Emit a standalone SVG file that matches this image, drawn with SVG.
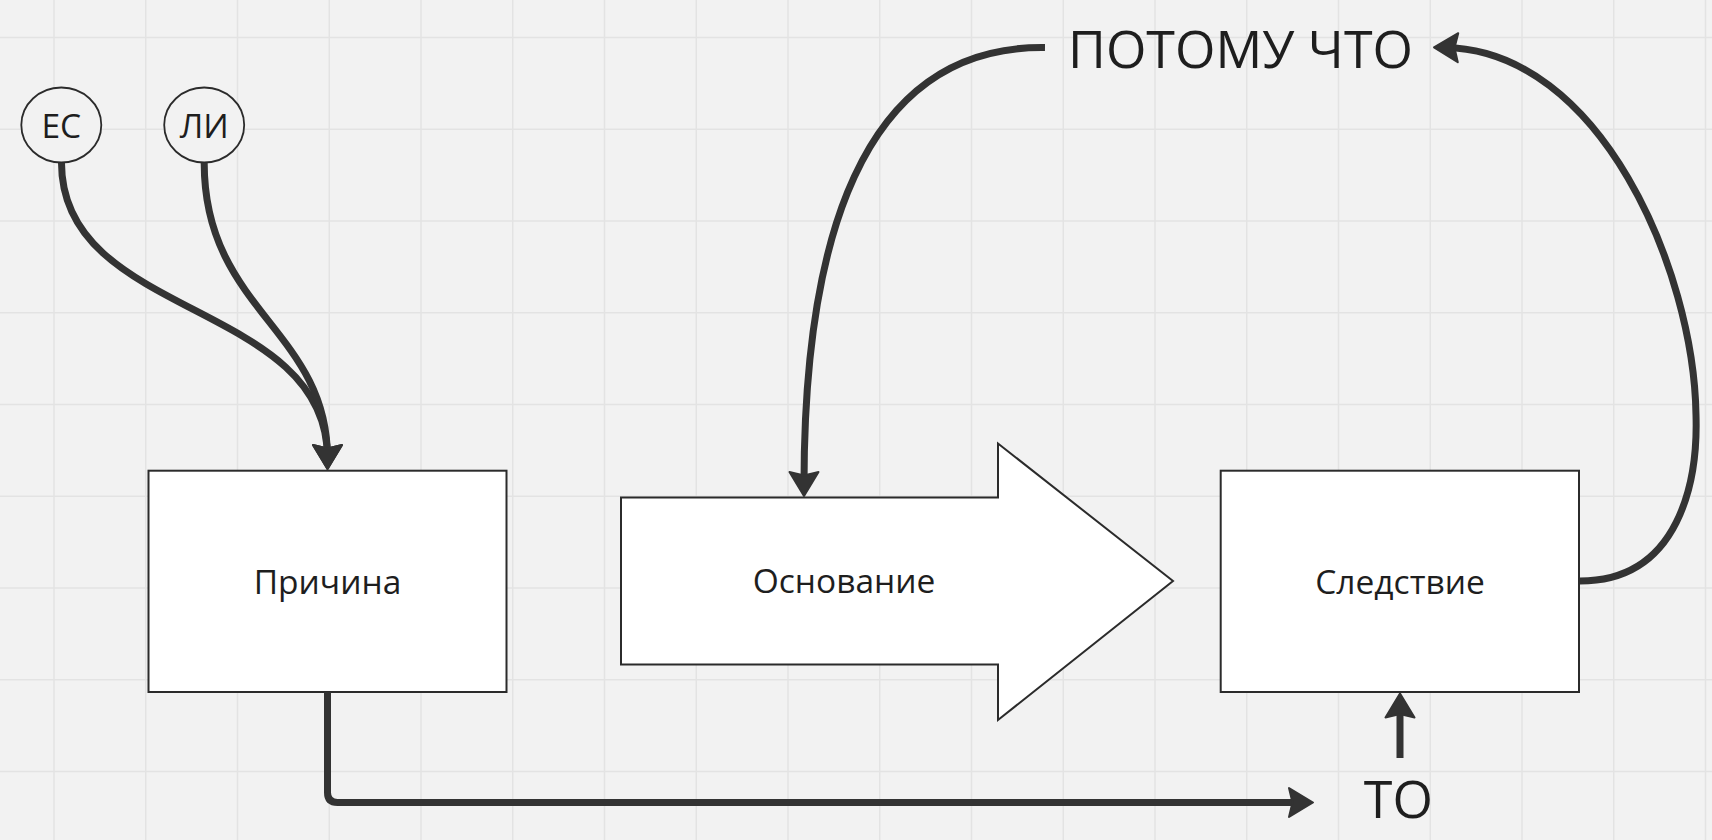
<svg xmlns="http://www.w3.org/2000/svg" width="1712" height="840" viewBox="0 0 1712 840">
<defs>
<style>
.grid line{stroke:#e3e3e3;stroke-width:1.5}
.box{fill:#ffffff;stroke:#2b2b2b;stroke-width:2}
.circ{fill:#f2f2f2;stroke:#2b2b2b;stroke-width:1.8}
.lbl{font-family:"Open Sans","Noto Sans","Liberation Sans",sans-serif;font-size:33.5px;fill:#1e1e1e;text-anchor:middle}
.big{font-family:"Open Sans","Noto Sans","Liberation Sans",sans-serif;font-size:52px;fill:#1e1e1e;text-anchor:middle}
.conn path{fill:none;stroke:#333333;stroke-width:7;marker-end:url(#ah)}
</style>
<marker id="ah" markerUnits="userSpaceOnUse" viewBox="-16 -18 32 36" markerWidth="32" markerHeight="36" refX="0" refY="0" orient="auto" overflow="visible">
<path d="M 11 0 L -13 -14.5 L -9.5 0 L -13 14.5 Z" fill="#333333" stroke="#333333" stroke-width="2" stroke-linejoin="round"/>
</marker>
</defs>
<rect x="0" y="0" width="1712" height="840" fill="#f2f2f2"/>
<g class="grid">
<line x1="54" y1="0" x2="54" y2="840"/>
<line x1="145.75" y1="0" x2="145.75" y2="840"/>
<line x1="237.5" y1="0" x2="237.5" y2="840"/>
<line x1="329.25" y1="0" x2="329.25" y2="840"/>
<line x1="421" y1="0" x2="421" y2="840"/>
<line x1="512.75" y1="0" x2="512.75" y2="840"/>
<line x1="604.5" y1="0" x2="604.5" y2="840"/>
<line x1="696.25" y1="0" x2="696.25" y2="840"/>
<line x1="788" y1="0" x2="788" y2="840"/>
<line x1="879.75" y1="0" x2="879.75" y2="840"/>
<line x1="971.5" y1="0" x2="971.5" y2="840"/>
<line x1="1063.25" y1="0" x2="1063.25" y2="840"/>
<line x1="1155" y1="0" x2="1155" y2="840"/>
<line x1="1246.75" y1="0" x2="1246.75" y2="840"/>
<line x1="1338.5" y1="0" x2="1338.5" y2="840"/>
<line x1="1430.25" y1="0" x2="1430.25" y2="840"/>
<line x1="1522" y1="0" x2="1522" y2="840"/>
<line x1="1613.75" y1="0" x2="1613.75" y2="840"/>
<line x1="1705.5" y1="0" x2="1705.5" y2="840"/>
<line x1="0" y1="37.5" x2="1712" y2="37.5"/>
<line x1="0" y1="129.25" x2="1712" y2="129.25"/>
<line x1="0" y1="221" x2="1712" y2="221"/>
<line x1="0" y1="312.75" x2="1712" y2="312.75"/>
<line x1="0" y1="404.5" x2="1712" y2="404.5"/>
<line x1="0" y1="496.25" x2="1712" y2="496.25"/>
<line x1="0" y1="588" x2="1712" y2="588"/>
<line x1="0" y1="679.75" x2="1712" y2="679.75"/>
<line x1="0" y1="771.5" x2="1712" y2="771.5"/>
</g>
<g id="node-es">
<ellipse class="circ" cx="61.3" cy="125" rx="40" ry="37.5"/>
<text class="lbl" x="61.3" y="138">ЕС</text>
</g>
<g id="node-li">
<ellipse class="circ" cx="204.2" cy="125" rx="40" ry="37.5"/>
<text class="lbl" x="204.2" y="138">ЛИ</text>
</g>
<g id="node-prichina">
<rect class="box" x="148.5" y="470.7" width="358" height="221.3"/>
<text class="lbl" x="327.5" y="594">Причина</text>
</g>
<g id="node-osnovanie">
<polygon class="box" points="621,497.5 998,497.5 998,443.5 1173,581 998,720 998,664.5 621,664.5"/>
<text class="lbl" x="844" y="593">Основание</text>
</g>
<g id="node-sledstvie">
<rect class="box" x="1220.7" y="470.7" width="358.3" height="221.3"/>
<text class="lbl" x="1400" y="594">Следствие</text>
</g>
<g id="node-potomu">
<text class="big" x="1240.5" y="68">ПОТОМУ ЧТО</text>
</g>
<g id="node-to">
<text class="big" x="1398.4" y="818">ТО</text>
</g>
<g id="connectors" class="conn">
<path d="M 61.5 163 C 61.5 320, 327.5 300, 327.5 458"/>
<path d="M 204.2 163 C 204.2 310, 327.5 330, 327.5 458"/>
<path d="M 327.5 692 V 792.5 Q 327.5 802.5 337.5 802.5 H 1302"/>
<path d="M 1400 758 V 704.5"/>
<path d="M 1045 47.5 C 840 45, 804 290, 804 485"/>
<path d="M 1580 581 C 1680 581, 1698 480, 1696 415 C 1694 270, 1600 50, 1445 47.5"/>
</g>
</svg>
